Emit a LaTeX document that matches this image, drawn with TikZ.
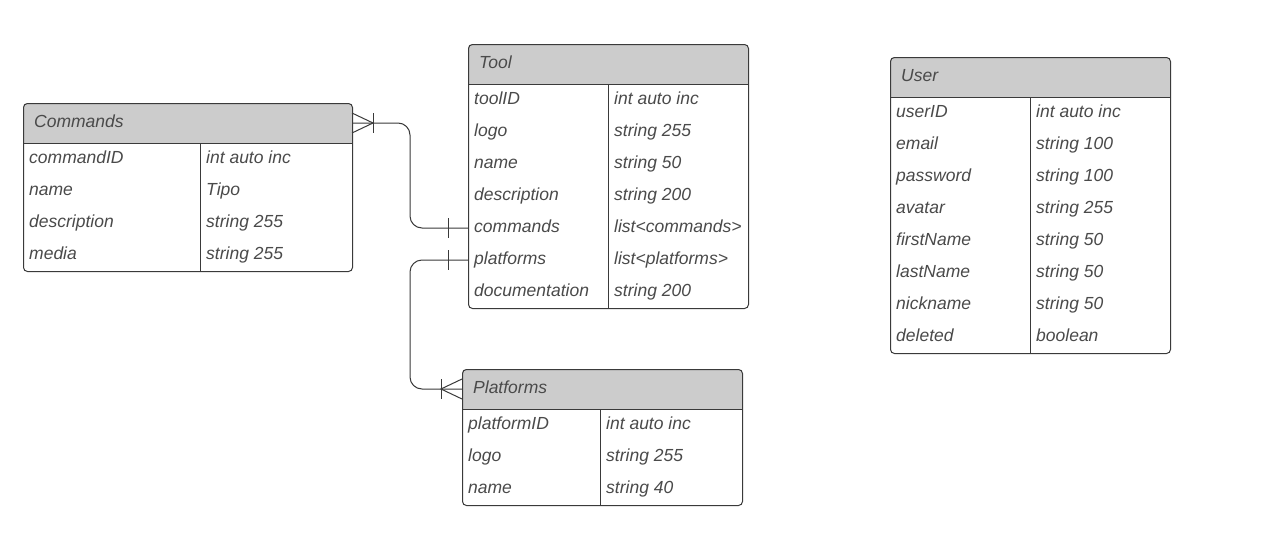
\documentclass[tikz,border=0pt]{standalone}
\usepackage{fontspec}
\setmainfont{Liberation Sans}
\usetikzlibrary{calc}
\definecolor{headgray}{HTML}{CCCCCC}
\definecolor{edgegray}{HTML}{3A3A3A}
\definecolor{txtgray}{HTML}{4A4A4A}
\tikzset{
  tabframe/.style={draw=edgegray, line width=1pt, rounded corners=4pt, inner sep=0pt},
  rowtext/.style={text=txtgray, font=\fontsize{17.5}{20}\selectfont\itshape, inner sep=0pt, anchor=base west},
  conn/.style={draw=edgegray, line width=1pt},
}
\newcommand\erbox[7]{% name, x, y, w, divider x, nrows, title
  \pgfmathsetmacro\hh{40+32*#6}
  \begin{scope}
    \clip[rounded corners=4pt] (#2,#3) rectangle ++(#4,\hh);
    \fill[headgray] (#2,#3) rectangle ++(#4,40);
  \end{scope}
  \node[tabframe, minimum width=#4pt, minimum height=\hh pt, anchor=north west] (#1) at (#2,#3) {};
  \draw[edgegray, line width=1pt] (#2,#3+40) -- ++(#4,0);
  \draw[edgegray, line width=1pt] (#5,#3+40) -- (#5,#3+\hh);
  \node[rowtext] (#1-title) at (#2+11,#3+24) {#7};
  \coordinate (#1-h) at (#2,#3+20);
  \coordinate (#1-he) at (#2+#4,#3+20);
}
\begin{document}
\begin{tikzpicture}[x=1pt,y=-1pt]
\useasboundingbox[fill=white] (0,0) rectangle (1270,538);

% Commands
\erbox{cmd}{23}{103}{329}{200}{4}{Commands}
\foreach \a/\b [count=\i] in {commandID/int auto inc, name/Tipo, description/string 255, media/string 255}{
  \coordinate (cmd-\i) at (23,143+32*\i-16);
  \node[rowtext] (cmd-a\i) at (29,143+32*\i-12) {\a};
  \node[rowtext] (cmd-b\i) at (206,143+32*\i-12) {\b};
}

% Tool
\erbox{tool}{468}{44}{280}{608}{7}{Tool}
\foreach \a/\b [count=\i] in {toolID/int auto inc, logo/string 255, name/string 50, description/string 200, commands/list<commands>, platforms/list<platforms>, documentation/string 200}{
  \coordinate (tool-\i) at (468,84+32*\i-16);
  \node[rowtext] (tool-a\i) at (474,84+32*\i-12) {\a};
  \node[rowtext] (tool-b\i) at (614,84+32*\i-12) {\b};
}

% User
\erbox{user}{890}{57}{280}{1030}{8}{User}
\foreach \a/\b [count=\i] in {userID/int auto inc, email/string 100, password/string 100, avatar/string 255, firstName/string 50, lastName/string 50, nickname/string 50, deleted/boolean}{
  \coordinate (user-\i) at (890,97+32*\i-16);
  \node[rowtext] (user-a\i) at (896,97+32*\i-12) {\a};
  \node[rowtext] (user-b\i) at (1036,97+32*\i-12) {\b};
}

% Platforms
\erbox{plat}{462}{369}{280}{600}{3}{Platforms}
\foreach \a/\b [count=\i] in {platformID/int auto inc, logo/string 255, name/string 40}{
  \coordinate (plat-\i) at (462,409+32*\i-16);
  \node[rowtext] (plat-a\i) at (468,409+32*\i-12) {\a};
  \node[rowtext] (plat-b\i) at (606,409+32*\i-12) {\b};
}

% Tool.commands -> Commands (one to many)
\draw[conn, rounded corners=12pt] (tool-5) -- ++(-58,0) |- (cmd-he);
\draw[conn] ($(tool-5)+(-20,-10)$) -- ($(tool-5)+(-20,10)$);
\draw[conn] ($(cmd-he)+(0,-10)$) -- ($(cmd-he)+(21,0)$) -- ($(cmd-he)+(0,10)$);
\draw[conn] ($(cmd-he)+(21,-10)$) -- ($(cmd-he)+(21,10)$);

% Tool.platforms -> Platforms (one to many)
\draw[conn, rounded corners=12pt] (tool-6) -- ++(-58,0) |- (plat-h);
\draw[conn] ($(tool-6)+(-20,-10)$) -- ($(tool-6)+(-20,10)$);
\draw[conn] ($(plat-h)+(0,-10)$) -- ($(plat-h)+(-21,0)$) -- ($(plat-h)+(0,10)$);
\draw[conn] ($(plat-h)+(-21,-10)$) -- ($(plat-h)+(-21,10)$);
\end{tikzpicture}
\end{document}
